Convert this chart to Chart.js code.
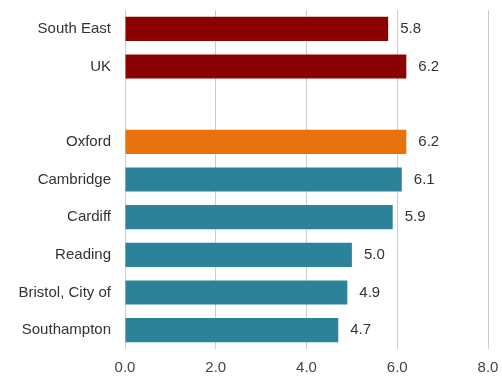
<!DOCTYPE html>
<html>
<head>
<meta charset="utf-8">
<script src="https://cdn.jsdelivr.net/npm/chart.js@4"></script>
<style>
  html, body { margin: 0; padding: 0; background: #fff; }
  #wrap { width: 502px; height: 378px; position: relative; }
</style>
</head>
<body>
<div id="wrap"><canvas id="chart"></canvas></div>
<script>
// Chart data
const categories = ['South East', 'UK', '', 'Oxford', 'Cambridge', 'Cardiff', 'Reading', 'Bristol, City of', 'Southampton'];
const values = [5.8, 6.2, null, 6.2, 6.1, 5.9, 5.0, 4.9, 4.7];
const barColors = ['#8c0202', '#8c0202', '#ffffff', '#e8720c', '#2c8299', '#2c8299', '#2c8299', '#2c8299', '#2c8299'];
const xTicks = [0, 2, 4, 6, 8];

const fontFamily = '"Liberation Sans", Arial, sans-serif';

// Draw the value next to each bar
const valueLabels = {
    id: 'valueLabels',
    afterDatasetsDraw(chart) {
        const ctx = chart.ctx;
        const meta = chart.getDatasetMeta(0);
        ctx.save();
        ctx.font = '15px ' + fontFamily;
        ctx.fillStyle = '#333333';
        ctx.textAlign = 'left';
        ctx.textBaseline = 'middle';
        meta.data.forEach(function (bar, i) {
            if (values[i] === null) return;
            ctx.fillText(values[i].toFixed(1), bar.x + 12, bar.y);
        });
        ctx.restore();
    }
};

const ctx = document.getElementById('chart').getContext('2d');
const chart = new Chart(ctx, {
    type: 'bar',
    data: {
        labels: categories,
        datasets: [{
            data: values,
            backgroundColor: barColors,
            borderWidth: 0,
            categoryPercentage: 1.0,
            barPercentage: 0.64
        }]
    },
    options: {
        indexAxis: 'y',
        responsive: true,
        maintainAspectRatio: false,
        animation: false,
        layout: { padding: { top: 10, right: 14, left: 0, bottom: 0 } },
        plugins: {
            legend: { display: false },
            tooltip: { enabled: false }
        },
        scales: {
            x: {
                min: 0,
                max: 8,
                afterBuildTicks: function (scale) {
                    scale.ticks = xTicks.map(v => ({ value: v }));
                },
                afterFit: function (scale) {
                    scale.height = 29;
                    scale.paddingLeft = 0;
                    scale.paddingRight = 0;
                },
                ticks: {
                    padding: 10,
                    color: '#444444',
                    font: { family: fontFamily, size: 15 },
                    callback: v => Number(v).toFixed(1)
                },
                grid: { color: '#cccccc', drawTicks: false, lineWidth: 1 },
                border: { display: false }
            },
            y: {
                afterFit: function (scale) {
                    scale.width = 125;
                    scale.paddingTop = 0;
                    scale.paddingBottom = 0;
                },
                ticks: {
                    padding: 14,
                    color: '#333333',
                    font: { family: fontFamily, size: 15 }
                },
                grid: { display: false, drawTicks: false },
                border: { display: false }
            }
        }
    },
    plugins: [valueLabels]
});
</script>
</body>
</html>
